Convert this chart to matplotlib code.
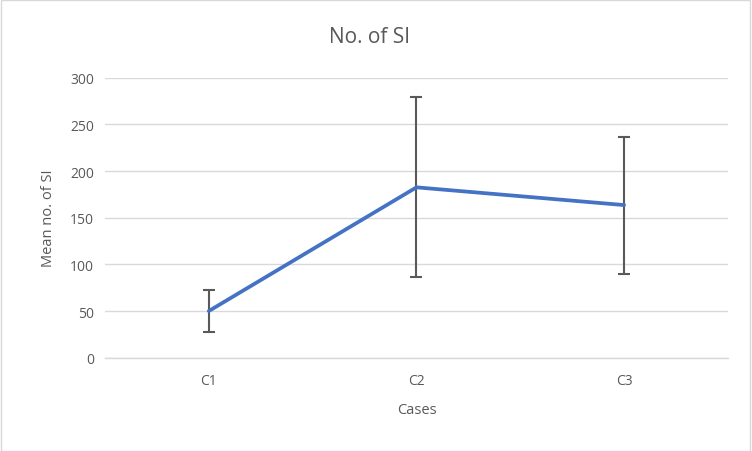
import matplotlib.pyplot as plt
from matplotlib.patches import Rectangle

plt.rcParams['font.family'] = ['Open Sans', 'DejaVu Sans']

# DATA
cases = ["C1", "C2", "C3"]
mean_si = [50, 182.5, 163.5]
err_si = [22.7, 96.5, 73.4]

# FIGURE
fig = plt.figure(figsize=(7.52, 4.52), dpi=100)
ax = fig.add_axes([0.1396, 0.2064, 0.8284, 0.6196])

x = range(len(cases))
ax.errorbar(x, mean_si, yerr=err_si, fmt="none", ecolor="#595959",
            elinewidth=1.5, capsize=4, capthick=1.5, zorder=2)
ax.plot(x, mean_si, color="#4472C4", linewidth=2.7,
        solid_capstyle="round", zorder=3)

ax.set_xlim(-0.5, 2.5)
ax.set_ylim(0, 300)
ax.set_yticks(range(0, 301, 50))
ax.set_xticks(list(x))
ax.set_xticklabels(cases)
ax.grid(axis="y", color="#D9D9D9", linewidth=1)
ax.axhline(0, color="#D9D9D9", linewidth=1, clip_on=False, zorder=1)
ax.set_axisbelow(True)
for s in ax.spines.values():
    s.set_visible(False)
ax.tick_params(length=0, colors="#595959", labelsize=10, pad=8)
ax.tick_params(axis="x", pad=11)

fig.text(0.492, 0.916, "No. of SI", fontsize=15, color="#595959",
         ha="center", va="center")
ax.set_xlabel("Cases", fontsize=10.5, color="#595959", labelpad=10)
ax.set_ylabel("Mean no. of SI", fontsize=10.5, color="#595959", labelpad=10)

# chart border
fig.patches.append(Rectangle((0.001, 0.001), 0.997, 0.997, transform=fig.transFigure,
                             fill=False, edgecolor="#D9D9D9", linewidth=1))

fig.savefig("out.png", dpi=100)
